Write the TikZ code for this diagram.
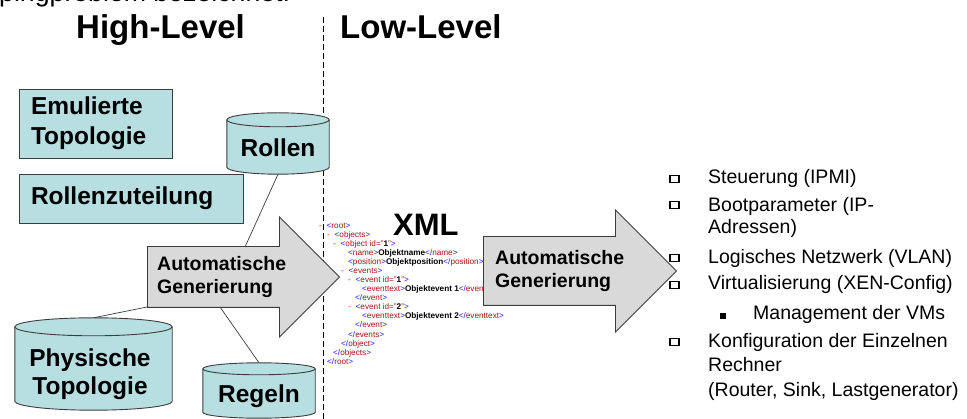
\documentclass[tikz,border=0pt]{standalone}
\usepackage{fontspec}
\setmainfont{Liberation Sans}
\usepackage{xcolor}
\usetikzlibrary{shapes.arrows, calc, positioning}
\definecolor{boxcyan}{RGB}{183,222,225}
\definecolor{arrgray}{RGB}{217,217,217}
\definecolor{edgegray}{RGB}{60,60,60}
\definecolor{xmlblue}{RGB}{30,30,230}
\definecolor{xmlred}{RGB}{160,20,20}
\newcommand{\fsz}[2]{\fontsize{#1}{#2}\selectfont}
% xml helpers
\newcommand{\xo}[1]{\textcolor{xmlblue}{<}\textcolor{xmlred}{#1}\textcolor{xmlblue}{>}}
\newcommand{\xc}[1]{\textcolor{xmlblue}{</}\textcolor{xmlred}{#1}\textcolor{xmlblue}{>}}
\newcommand{\xm}{\makebox[7.5pt][l]{\textcolor{red}{-}}}
\newcommand{\xv}[1]{\textbf{#1}}
% cylinder round a named (empty) node: #1 node, #2 y radius in pt
\newcommand{\storedraw}[2]{%
  \path [storeline] let \p1=(#1.north west), \p2=(#1.south east), \n1={(\x2-\x1)/2} in
    (\x1,{\y1-#2pt}) -- (\x1,{\y2+#2pt})
    arc [start angle=180, end angle=360, x radius=\n1, y radius=#2pt]
    -- (\x2,{\y1-#2pt})
    arc [start angle=0, end angle=180, x radius=\n1, y radius=#2pt] -- cycle;
  \path [storeline, fill=none] let \p1=(#1.north west), \p2=(#1.south east), \n1={(\x2-\x1)/2} in
    (\x1,{\y1-#2pt}) arc [start angle=180, end angle=360, x radius=\n1, y radius=#2pt];
}
\tikzset{
  %topology boxes
  topo/.style={
    draw=edgegray
    , fill=boxcyan
    , line width=0.9pt
    , rectangle
    , align=left
    , inner xsep=12pt
    , font=\fsz{24.5}{30}\bfseries
  },
  %data stores
  store/.style={
    rectangle
    , inner sep=0pt
  },
  storeline/.style={
    draw=edgegray
    , fill=boxcyan
    , line width=0.9pt
  },
  storetext/.style={
    align=center
    , inner sep=0pt
    , font=\fsz{24.5}{28}\bfseries
  },
  genarrow/.style={
    draw=edgegray
    , fill=arrgray
    , line width=0.9pt
    , single arrow
    , single arrow tip angle=90
    , inner sep=0pt
    , anchor=tail
  },
}

\begin{document}
\begin{tikzpicture}[x=1pt,y=-1pt]
  \tikzstyle{gentext}=[anchor=west, align=left, inner sep=0pt, font=\fsz{19.5}{23}\bfseries]
  \tikzstyle{title}=[anchor=base west, inner sep=0pt, font=\fsz{33}{40}\bfseries]
  \tikzstyle{xml}=[anchor=base west, inner sep=0pt, font=\fsz{8.2}{9}]
  \tikzstyle{item}=[anchor=base west, inner sep=0pt, font=\fsz{19.5}{23}]
  \tikzstyle{boxbullet}=[draw, fill=white, line width=1.6pt, minimum width=8.5pt, minimum height=7pt, inner sep=0pt]
  \tikzstyle{sqbullet}=[fill=black, minimum size=5.5pt, inner sep=0pt]
  \tikzstyle{conn}=[draw=edgegray, line width=0.7pt]
  \useasboundingbox (0,0) rectangle (967,419);
  \clip (0,0) rectangle (967,419);

  \node [anchor=base west, inner sep=0pt, font=\fsz{26.7}{30}] (intro) at (-1,1.5) {pingproblem bezeichnet.};

  \node [title] (high) at (76,39) {High-Level};
  \node [title] (low) at (340,39) {Low-Level};
  \coordinate (div-top) at (323,17);
  \coordinate (div-bot) at (323,419);
  \draw [dash pattern=on 6pt off 3pt, line width=0.8pt] (div-top) -- (div-bot);

  %high level side
  \node [topo, minimum width=153pt, minimum height=69pt, text width=129pt] (emul) at (95.5,123.5) {Emulierte\\Topologie};
  \node [topo, minimum width=224pt, minimum height=49pt, text width=200pt] (zuteil) at (131,198.5) {Rollenzuteilung};

  \node [store, minimum width=102pt, minimum height=61pt] (rollen) at (278,143.5) {};
  \storedraw{rollen}{7}
  \node [storetext] (rollen-txt) at (278,148) {Rollen};

  \node [store, minimum width=157pt, minimum height=92pt] (physisch) at (93.5,364) {};
  \storedraw{physisch}{9}
  \node [storetext] (physisch-txt) at (90,374) {Physische\\Topologie};

  \node [store, minimum width=112pt, minimum height=55pt] (regeln) at (259,390.5) {};
  \storedraw{regeln}{6}
  \node [storetext] (regeln-txt) at (259,396) {Regeln};

  \node [genarrow, minimum height=192pt, text height=30pt, text depth=30pt, single arrow head extend=29.5pt] (gen-hl) at (147,277) {};
  \node [gentext] (gen-hl-txt) at ([xshift=10pt]gen-hl.tail) {Automatische\\Generierung};

  \draw [conn] (rollen.south) -- ($(gen-hl.tail)+(98,-30)$);
  \draw [conn] (physisch.north) -- ($(gen-hl.tail)+(0,30)$);
  \draw [conn] ($(gen-hl.tail)+(73,30)$) -- (regeln.north);

  %xml listing
  \node [anchor=base west, inner sep=0pt, font=\fsz{31}{36}\bfseries] (xml-title) at (393,236) {XML};
  \node [xml] (x1) at (319,229) {\xm\xo{root}};
  \node [xml] (x2) at (327,238) {\xm\xo{objects}};
  \node [xml] (x3) at (333,247) {\xm\textcolor{xmlblue}{<}\textcolor{xmlred}{object id="}\xv{1}\textcolor{xmlred}{"}\textcolor{xmlblue}{>}};
  \node [xml] (x4) at (348,256) {\xo{name}\xv{Objektname}\xc{name}};
  \node [xml] (x5) at (348,265) {\xo{position}\xv{Objektposition}\xc{position}};
  \node [xml] (x6) at (341,274) {\xm\xo{events}};
  \node [xml] (x7) at (348,283) {\xm\textcolor{xmlblue}{<}\textcolor{xmlred}{event id="}\xv{1}\textcolor{xmlred}{"}\textcolor{xmlblue}{>}};
  \node [xml] (x8) at (362,292) {\xo{eventtext}\xv{Objektevent 1}\xc{eventtext}};
  \node [xml] (x9) at (355,301) {\xc{event}};
  \node [xml] (x10) at (348,310) {\xm\textcolor{xmlblue}{<}\textcolor{xmlred}{event id="}\xv{2}\textcolor{xmlred}{"}\textcolor{xmlblue}{>}};
  \node [xml] (x11) at (362,319) {\xo{eventtext}\xv{Objektevent 2}\xc{eventtext}};
  \node [xml] (x12) at (355,328) {\xc{event}};
  \node [xml] (x13) at (348,338) {\xc{events}};
  \node [xml] (x14) at (341,347) {\xc{object}};
  \node [xml] (x15) at (333,356) {\xc{objects}};
  \node [xml] (x16) at (327,365) {\xc{root}};

  \node [genarrow, minimum height=193pt, text height=34pt, text depth=34pt, single arrow head extend=26.5pt] (gen-ll) at (483,271) {};
  \node [gentext] (gen-ll-txt) at ([xshift=12pt]gen-ll.tail) {Automatische\\Generierung};

  %low level list
  \node [item] (steuer) at (708,184) {Steuerung (IPMI)};
  \node [item] (boot) at (708,212) {Bootparameter (IP-};
  \node [item] (boot-b) at (708,234) {Adressen)};
  \node [item] (vlan) at (708,264) {Logisches Netzwerk (VLAN)};
  \node [item] (virt) at (708,290) {Virtualisierung (XEN-Config)};
  \node [item] (vms) at (753,320) {Management der VMs};
  \node [item] (konf) at (708,348) {Konfiguration der Einzelnen};
  \node [item] (konf-b) at (708,372) {Rechner};
  \node [item] (konf-c) at (708,397) {(Router, Sink, Lastgenerator)};

  \node [boxbullet] (b1) at (674.5,179) {};
  \node [boxbullet] (b2) at (674.5,205) {};
  \node [boxbullet] (b3) at (674.5,258) {};
  \node [boxbullet] (b4) at (674.5,285) {};
  \node [sqbullet] (b5) at (723,316) {};
  \node [boxbullet] (b6) at (674.5,342) {};

\end{tikzpicture}
\end{document}
